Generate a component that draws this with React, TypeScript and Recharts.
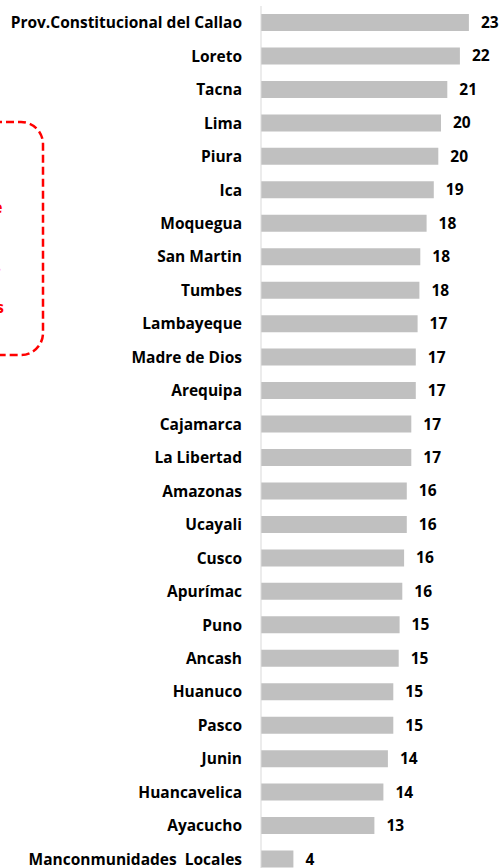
import { Bar, BarChart, LabelList, XAxis, YAxis } from "recharts"

const regions = [
  "Prov.Constitucional del Callao",
  "Loreto",
  "Tacna",
  "Lima",
  "Piura",
  "Ica",
  "Moquegua",
  "San Martin",
  "Tumbes",
  "Lambayeque",
  "Madre de Dios",
  "Arequipa",
  "Cajamarca",
  "La Libertad",
  "Amazonas",
  "Ucayali",
  "Cusco",
  "Apurímac",
  "Puno",
  "Ancash",
  "Huanuco",
  "Pasco",
  "Junin",
  "Huancavelica",
  "Ayacucho",
  "Manconmunidades\u00A0 Locales",
]

const values = [
  23.1, 22.1, 20.7, 20.0, 19.7, 19.2, 18.4, 17.7, 17.6, 17.4, 17.2, 17.2, 16.7,
  16.7, 16.2, 16.2, 15.9, 15.7, 15.4, 15.3, 14.7, 14.7, 14.1, 13.6, 12.6, 3.6,
]

const xDomain = [0, 25]

const noteLines = ["promedio de", "nivel de ejecución.", "entidades"]

const data = regions.map((name, i) => ({ name, value: values[i] }))

const font = "'Open Sans', sans-serif"

export default function App() {
  return (
    <div
      style={{
        position: "absolute",
        left: 0,
        top: 0,
        width: 502,
        height: 868,
        overflow: "hidden",
        background: "#fff",
        fontFamily: font,
      }}
    >
      <svg width={60} height={868} style={{ position: "absolute", left: 0, top: 0 }}>
        <rect
          x={-100}
          y={122}
          width={143}
          height={233}
          rx={22}
          fill="none"
          stroke="#ff0000"
          strokeWidth={2.5}
          strokeDasharray="8 4"
        />
        {noteLines.map((t, i) => (
          <text
            key={t}
            x={[2.5, 1, 4][i]}
            y={[213, 271, 313][i]}
            textAnchor="end"
            fill="#ff0000"
            fontWeight="bold"
            fontSize={16}
            fontFamily={font}
          >
            {t}
          </text>
        ))}
      </svg>
      <div style={{ position: "absolute", left: 0, top: 0 }}>
        <BarChart
          width={502}
          height={880}
          data={data}
          layout="vertical"
          margin={{ top: 6, right: 16, bottom: 4, left: 0 }}
          barSize={17}
        >
          <XAxis type="number" domain={xDomain} hide />
          <YAxis
            type="category"
            dataKey="name"
            width={261}
            interval={0}
            tickLine={false}
            tickSize={0}
            tickMargin={19}
            axisLine={{ stroke: "#d9d9d9", strokeWidth: 1 }}
            tick={{ fontSize: 15.5, fontWeight: "bold", fill: "#000", fontFamily: font }}
          />
          <Bar dataKey="value" fill="#c0c0c0" isAnimationActive={false}>
            <LabelList
              dataKey="value"
              position="right"
              offset={12}
              formatter={(v: number) => Math.round(v)}
              style={{ fontSize: 15.5, fontWeight: "bold", fill: "#000", fontFamily: font }}
            />
          </Bar>
        </BarChart>
      </div>
    </div>
  )
}
